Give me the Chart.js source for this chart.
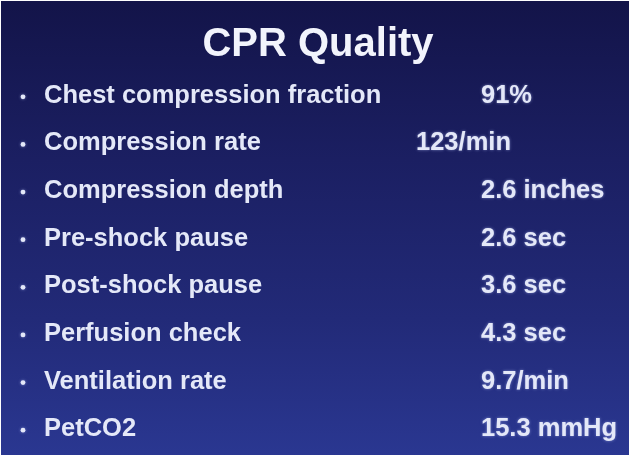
<!DOCTYPE html>
<html>
<head>
<meta charset="utf-8">
<script src="https://cdn.jsdelivr.net/npm/chart.js@4/dist/chart.umd.min.js"></script>
<style>
  html, body { margin: 0; padding: 0; background: #ffffff; }
  /* the slide sits inside a thin white frame, as in the scan */
  #slide {
    position: absolute; left: 1px; top: 1px; width: 628px; height: 454px;
    background: linear-gradient(180deg, #131449 0%, #1b1f62 35%, #222a78 70%, #2a3791 100%);
  }
  canvas { display: block; }
</style>
</head>
<body>
<div id="slide"><canvas id="cprChart"></canvas></div>
<script>
// Items shown on the slide and their measured results
const categories = ['Chest compression fraction', 'Compression rate', 'Compression depth', 'Pre-shock pause',
                    'Post-shock pause', 'Perfusion check', 'Ventilation rate', 'PetCO2'];
const readings = [91, 123, 2.6, 2.6, 3.6, 4.3, 9.7, 15.3];
const units = ['%', '/min', ' inches', ' sec', ' sec', ' sec', '/min', ' mmHg'];

const textColor = '#e4e8f8';
const itemFont = { family: "'Liberation Sans', Arial, sans-serif", size: 25.5, weight: 'bold' };

// Column of the values on the hidden x axis (the rate line sits a bit further left)
const valueCol = 65;
const rateCol = 0;

// Plugin: draws the bullets and the value text next to every row
const slideTextPlugin = {
    id: 'slideText',
    afterDatasetsDraw(chart) {
        const ctx = chart.ctx;
        const meta = chart.getDatasetMeta(0);
        const yScale = chart.scales.y;
        ctx.save();
        ctx.shadowColor = 'rgba(190,200,255,0.55)';
        ctx.shadowBlur = 3;
        ctx.fillStyle = textColor;
        ctx.font = `${itemFont.weight} ${itemFont.size}px ${itemFont.family}`;
        ctx.textAlign = 'left';
        ctx.textBaseline = 'middle';
        meta.data.forEach((pt, i) => {
            ctx.fillText(readings[i] + units[i], pt.x, pt.y);
            // bullet
            ctx.beginPath();
            ctx.arc(yScale.left - 21, pt.y + 1, 2.4, 0, Math.PI * 2);
            ctx.fill();
        });
        ctx.restore();
    }
};

new Chart(document.getElementById('cprChart'), {
    type: 'scatter',
    data: {
        labels: categories,
        datasets: [{
            data: readings.map((v, i) => ({ x: i === 1 ? rateCol : valueCol, y: categories[i] })),
            pointRadius: 0,
            pointHoverRadius: 0
        }]
    },
    options: {
        responsive: true,
        maintainAspectRatio: false,
        animation: false,
        events: [],
        // right padding keeps the title centred on the slide
        layout: { padding: { left: 43, right: 37, top: 0, bottom: 2 } },
        plugins: {
            legend: { display: false },
            tooltip: { enabled: false },
            title: {
                display: true,
                text: 'CPR Quality',
                color: '#f2f4fc',
                font: { family: "'Liberation Sans', Arial, sans-serif", size: 40, weight: 'bold' },
                padding: { top: 20, bottom: 3 }
            }
        },
        scales: {
            x: { type: 'linear', display: false, min: 0, max: 176 },
            y: {
                type: 'category',
                offset: true,
                grid: { display: false },
                border: { display: false },
                ticks: { color: textColor, font: itemFont, crossAlign: 'far', padding: 0 },
                afterFit: s => { s.width = 372; s.paddingTop = 0; s.paddingBottom = 0; }
            }
        }
    },
    plugins: [slideTextPlugin]
});
</script>
</body>
</html>
